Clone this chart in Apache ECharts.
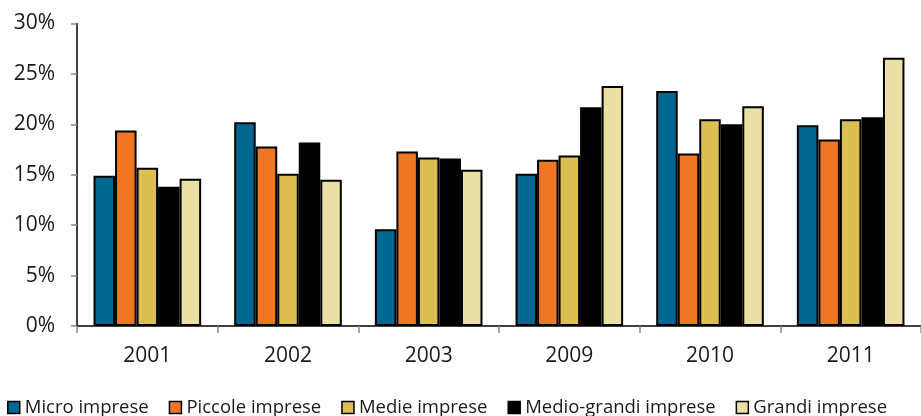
<!DOCTYPE html>
<html>
<head>
<meta charset="utf-8">
<script src="https://cdn.jsdelivr.net/npm/echarts@6/dist/echarts.min.js"></script>
<style>
  html, body { margin: 0; padding: 0; background: #ffffff; }
  #chart { width: 921px; height: 416px; }
</style>
</head>
<body>
<div id="chart"></div>
<script>
// Years on the category axis
const years = ['2001', '2002', '2003', '2009', '2010', '2011'];

// Share (%) per firm size class
const microImprese = [14.9, 20.2, 9.6, 15.1, 23.3, 19.9];
const piccoleImprese = [19.4, 17.8, 17.3, 16.5, 17.1, 18.5];
const medieImprese = [15.7, 15.1, 16.7, 16.9, 20.5, 20.5];
const medioGrandiImprese = [13.8, 18.2, 16.6, 21.7, 20.0, 20.7];
const grandiImprese = [14.6, 14.5, 15.5, 23.8, 21.8, 26.6];

// Y axis ticks
const yTicks = [0, 5, 10, 15, 20, 25, 30];

const seriesDefs = [
  { name: 'Micro imprese', data: microImprese, color: '#006890' },
  { name: 'Piccole imprese', data: piccoleImprese, color: '#EF7622' },
  { name: 'Medie imprese', data: medieImprese, color: '#DBBF52' },
  { name: 'Medio-grandi imprese', data: medioGrandiImprese, color: '#000000' },
  { name: 'Grandi imprese', data: grandiImprese, color: '#EAE0A4' }
];

const fontFamily = '"Open Sans", "Noto Sans", sans-serif';

const chart = echarts.init(document.getElementById('chart'), null, { renderer: 'canvas' });

chart.setOption({
  animation: false,
  backgroundColor: '#ffffff',
  textStyle: { fontFamily: fontFamily },
  grid: { left: 77, right: -7, top: 23.5, bottom: 90, containLabel: false },
  legend: {
    left: 7,
    top: 398,
    padding: 0,
    itemWidth: 12,
    itemHeight: 12,
    itemGap: 20,
    icon: 'rect',
    itemStyle: { borderColor: '#000000', borderWidth: 1.5 },
    textStyle: { fontSize: 18.5, color: '#1a1a1a', fontFamily: fontFamily },
    data: seriesDefs.map(s => s.name)
  },
  xAxis: {
    type: 'category',
    data: years,
    axisLine: { show: true, lineStyle: { color: '#000000', width: 1.5 } },
    axisTick: { show: true, alignWithLabel: false, length: 7, lineStyle: { color: '#888888', width: 1.5 } },
    axisLabel: { fontSize: 21, color: '#1a1a1a', margin: 20, fontFamily: fontFamily }
  },
  yAxis: {
    type: 'value',
    min: yTicks[0],
    max: yTicks[yTicks.length - 1],
    interval: 5,
    axisLine: { show: true, lineStyle: { color: '#000000', width: 1.5 } },
    axisTick: { show: true, inside: false, length: 6, lineStyle: { color: '#888888', width: 1.5 } },
    splitLine: { show: false },
    axisLabel: {
      fontSize: 21,
      color: '#1a1a1a',
      margin: 22,
      fontFamily: fontFamily,
      formatter: v => v + '%'
    }
  },
  series: seriesDefs.map(s => ({
    name: s.name,
    type: 'bar',
    data: s.data,
    barGap: '0%',
    barCategoryGap: '23.5%',
    itemStyle: { color: s.color, borderColor: '#000000', borderWidth: 2 }
  }))
});
</script>
</body>
</html>
